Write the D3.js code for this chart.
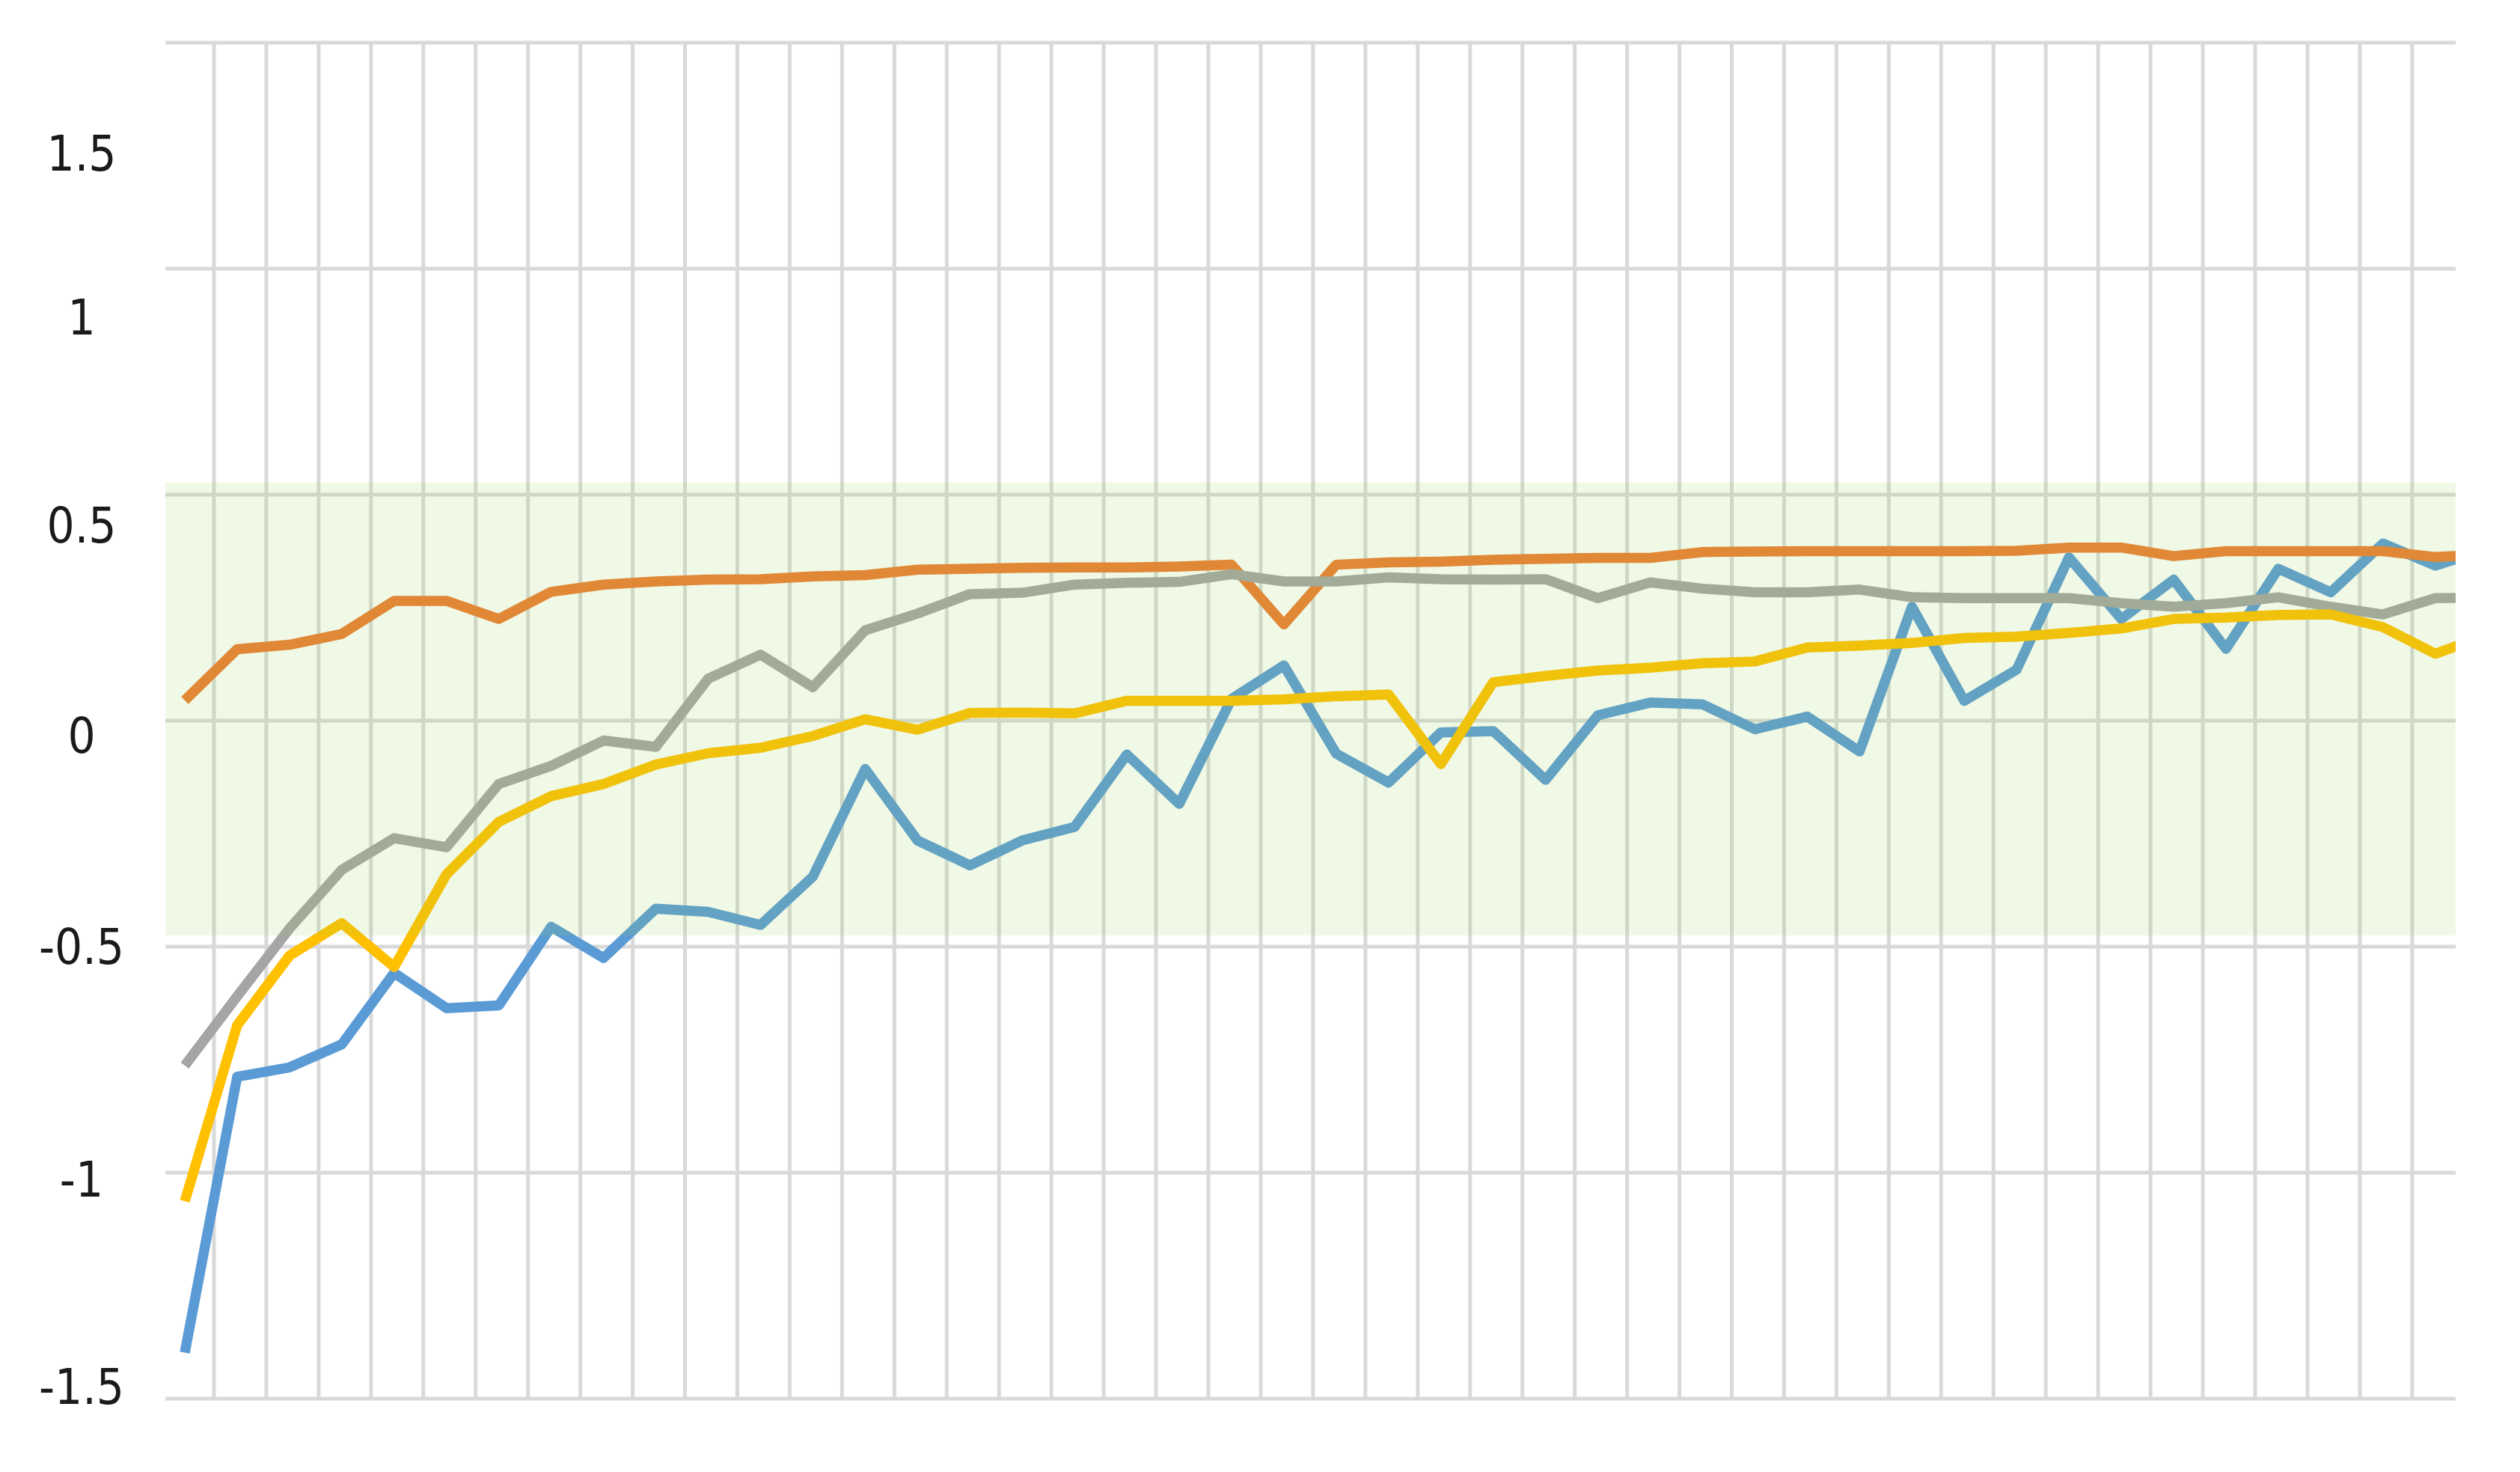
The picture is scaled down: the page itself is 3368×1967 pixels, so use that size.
<!DOCTYPE html>
<html>
<head>
<meta charset="utf-8">
<script src="https://cdn.jsdelivr.net/npm/d3@7"></script>
<style>
  html, body { margin: 0; padding: 0; background: #ffffff; }
  svg { display: block; }
</style>
</head>
<body>
<svg id="chart" width="3368" height="1967"></svg>
<script>
// ---------------- DATA ----------------
const categories = [1,2,3,4,5,6,7,8,9,10,11,12,13,14,15,16,17,18,19,20,21,22,23,24,25,26,27,28,29,30,31,32,33,34,35,36,37,38,39,40,41,42,43,44,45];

const series1 = [-1.398, -0.788, -0.767, -0.716, -0.558, -0.636, -0.630, -0.456, -0.525, -0.416,
                 -0.423, -0.452, -0.345, -0.107, -0.265, -0.320, -0.265, -0.235, -0.075, -0.184,
                  0.048,  0.122, -0.073, -0.137, -0.026, -0.023, -0.131,  0.012,  0.040,  0.036,
                 -0.019,  0.009, -0.068,  0.252,  0.044,  0.113,  0.361,  0.225,  0.312,  0.159,
                  0.336,  0.284,  0.392,  0.343,  0.380];

const series2 = [ 0.045,  0.158,  0.168,  0.192,  0.265,  0.265,  0.225,  0.285,  0.301,  0.308,
                  0.312,  0.313,  0.319,  0.322,  0.334,  0.336,  0.338,  0.339,  0.339,  0.341,
                  0.345,  0.213,  0.345,  0.350,  0.352,  0.356,  0.358,  0.360,  0.360,  0.373,
                  0.374,  0.375,  0.375,  0.375,  0.375,  0.376,  0.383,  0.383,  0.364,  0.375,
                  0.375,  0.375,  0.375,  0.362,  0.368];

const series3 = [-0.763, -0.610, -0.460, -0.330, -0.260, -0.280, -0.140, -0.100, -0.044, -0.058,
                  0.093,  0.146,  0.074,  0.200,  0.237,  0.280,  0.283,  0.301,  0.305,  0.307,
                  0.324,  0.308,  0.308,  0.317,  0.313,  0.312,  0.313,  0.271,  0.306,  0.292,
                  0.284,  0.284,  0.290,  0.273,  0.271,  0.271,  0.271,  0.260,  0.252,  0.260,
                  0.273,  0.252,  0.235,  0.271,  0.272];

const series4 = [-1.063, -0.674, -0.520, -0.448, -0.545, -0.340, -0.224, -0.167, -0.140, -0.097,
                 -0.072, -0.060, -0.034,  0.003, -0.020,  0.017,  0.018,  0.016,  0.044,  0.044,
                  0.044,  0.047,  0.054,  0.058, -0.096,  0.085,  0.099,  0.111,  0.117,  0.127,
                  0.131,  0.162,  0.166,  0.172,  0.183,  0.186,  0.194,  0.204,  0.225,  0.228,
                  0.234,  0.235,  0.207,  0.148,  0.190];

const seriesNames = ["Series1", "Series2", "Series3", "Series4"];
const yTicks = [-1.5, -1, -0.5, 0, 0.5, 1, 1.5];
const yTickLabels = ["-1.5", "-1", "-0.5", "0", "0.5", "1", "1.5"];
const bandRange = [-0.475, 0.527];   // highlighted value band

// ---------------- LAYOUT / STYLE ----------------
const plot = { left: 221, right: 3282, top: 57, bottom: 1869 };
const firstPointX = 247, pointStep = 69.95;
const gridOffset = 0.557;              // vertical gridlines sit between categories
const labelCenterX = 109;
const labelNudge = [-16, 9, 0, 20, 41, 65, 148];   // per-tick vertical shift of labels (as drawn in reference)
const colors = ["#5B9BD5", "#ED7D31", "#A5A5A5", "#FFC000"];
const gridColor = "#D9D9D9";

const svg = d3.select("#chart");
svg.append("rect").attr("width", 3368).attr("height", 1967).attr("fill", "#ffffff");

const x = d3.scaleLinear()
  .domain([0, categories.length - 1])
  .range([firstPointX, firstPointX + pointStep * (categories.length - 1)]);
const y = d3.scaleLinear().domain([-1.5, 1.5]).range([plot.bottom, plot.top]);

// clip for plot area
svg.append("defs").append("clipPath").attr("id", "plotClip")
  .append("rect")
  .attr("x", plot.left).attr("y", 0)
  .attr("width", plot.right - plot.left).attr("height", 1967);

// vertical gridlines
const vIdx = categories.slice(0, categories.length - 2).map((d, i) => i);
svg.append("g").selectAll("line").data(vIdx).join("line")
  .attr("x1", i => x(i + gridOffset)).attr("x2", i => x(i + gridOffset))
  .attr("y1", plot.top).attr("y2", plot.bottom)
  .attr("stroke", gridColor).attr("stroke-width", 5);

// horizontal gridlines
svg.append("g").selectAll("line").data(yTicks).join("line")
  .attr("x1", plot.left).attr("x2", plot.right)
  .attr("y1", d => y(d)).attr("y2", d => y(d))
  .attr("stroke", gridColor).attr("stroke-width", 5);

// series lines
const allSeries = [series1, series2, series3, series4];
const line = d3.line().x((d, i) => x(i)).y(d => y(d)).curve(d3.curveLinear);
const lg = svg.append("g").attr("clip-path", "url(#plotClip)");
allSeries.forEach((s, k) => {
  lg.append("path")
    .datum(s)
    .attr("class", "series " + seriesNames[k])
    .attr("d", line)
    .attr("fill", "none")
    .attr("stroke", colors[k])
    .attr("stroke-width", 13.5)
    .attr("stroke-linejoin", "round")
    .attr("stroke-linecap", "butt");
});

// translucent green band on top
svg.append("rect")
  .attr("x", plot.left).attr("width", plot.right - plot.left)
  .attr("y", y(bandRange[1])).attr("height", y(bandRange[0]) - y(bandRange[1]))
  .attr("fill", "#92D050").attr("fill-opacity", 0.14);

// y axis labels
const yAxis = d3.axisLeft(y)
  .tickValues(yTicks)
  .tickSize(0)
  .tickPadding(0)
  .tickFormat((d, i) => yTickLabels[i]);
const ag = svg.append("g").attr("transform", `translate(${labelCenterX},0)`).call(yAxis);
ag.select(".domain").remove();
ag.selectAll(".tick text")
  .attr("x", 0)
  .attr("dy", null)
  .attr("y", (d, i) => labelNudge[i])
  .attr("dominant-baseline", "central")
  .attr("text-anchor", "middle")
  .attr("fill", "#1a1a1a")
  .style("font-family", "'DejaVu Sans Condensed', 'DejaVu Sans', sans-serif")
  .style("font-stretch", "condensed")
  .style("font-size", "65px");
</script>
</body>
</html>
